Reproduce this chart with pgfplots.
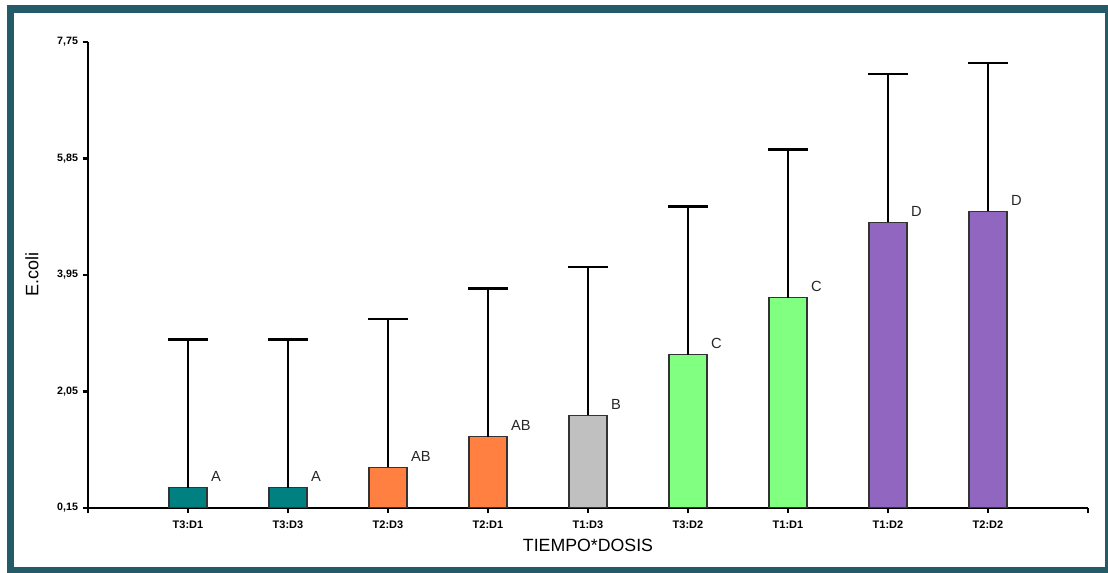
\documentclass[border=0pt]{standalone}
\usepackage{pgfplots}
\pgfplotsset{compat=1.18}
\usepackage{fontspec}
\setmainfont{Liberation Sans}

\definecolor{framecol}{HTML}{245B69}
\definecolor{cteal}{HTML}{008080}
\definecolor{corange}{HTML}{FF8040}
\definecolor{cgray}{HTML}{C0C0C0}
\definecolor{cgreen}{HTML}{80FF80}
\definecolor{cpurple}{HTML}{9166C0}

\pgfplotsset{
  grpbar/.style={
    ybar, bar shift=0pt, bar width=28.5pt,
    draw=black!80, line width=0.9pt,
    error bars/y dir=plus, error bars/y explicit,
    error bars/draw error bar/.code 2 args={%
      \draw[black, line width=2pt] ##1 -- ##2;
      \draw[black, line width=2pt] ##2 ++(-15pt,0) -- ++(30pt,0);
    },
  },
}

\begin{document}
\begin{tikzpicture}[x=1pt,y=1pt]
\useasboundingbox (0,0) rectangle (831,429);
\begin{scope}
  \clip (0,0) rectangle (831,429);
  \draw[framecol, line width=5.6pt] (7.9,1.1) rectangle (831.75,422.25);
\end{scope}
\begin{axis}[
  at={(66pt,48.2pt)}, anchor=south west,
  scale only axis, width=750pt, height=349.3pt,
  xmin=0, xmax=10, ymin=0.15, ymax=7.75,
  axis lines=left, axis line style={-, line width=1.8pt},
  tick style={black, line width=1.8pt},
  tick align=outside, major tick length=4pt,
  xtick={0,1,...,10},
  xticklabels={,T3:D1,T3:D3,T2:D3,T2:D1,T1:D3,T3:D2,T1:D1,T1:D2,T2:D2,},
  ytick={0.15,2.05,3.95,5.85,7.75},
  yticklabels={{0,15},{2,05},{3,95},{5,85},{7,75}},
  xticklabel style={font=\bfseries\fontsize{8.25}{10}\selectfont, yshift=-2pt},
  yticklabel style={font=\bfseries\fontsize{8}{9.5}\selectfont},
  xlabel={TIEMPO*DOSIS},
  ylabel={E.coli},
  every axis x label/.style={at={(axis description cs:0.5,-0.0816)}, anchor=center, font=\fontsize{13.3}{16}\selectfont},
  every axis y label/.style={at={(axis description cs:-0.056,0.5)}, rotate=90, anchor=center, font=\fontsize{13.5}{16}\selectfont},
  nodes near coords, point meta=explicit symbolic,
  nodes near coords style={anchor=base west, xshift=16.9pt, yshift=4.5pt, inner sep=0pt, font=\fontsize{11}{13}\selectfont, text=black!85},
]
% bars grouped by fill colour; letters mark the mean-separation groups
\addplot[grpbar, fill=cteal] table[x=x, y=y, y error=e, meta=l] {
x y e l
1 0.48 2.42 A
2 0.48 2.42 A
};
\addplot[grpbar, fill=corange] table[x=x, y=y, y error=e, meta=l] {
x y e l
3 0.81 2.42 AB
4 1.31 2.42 AB
};
\addplot[grpbar, fill=cgray] table[x=x, y=y, y error=e, meta=l] {
x y e l
5 1.66 2.42 B
};
\addplot[grpbar, fill=cgreen] table[x=x, y=y, y error=e, meta=l] {
x y e l
6 2.65 2.42 C
7 3.58 2.42 C
};
\addplot[grpbar, fill=cpurple] table[x=x, y=y, y error=e, meta=l] {
x y e l
8 4.81 2.42 D
9 4.99 2.42 D
};
\end{axis}
\end{tikzpicture}
\end{document}
